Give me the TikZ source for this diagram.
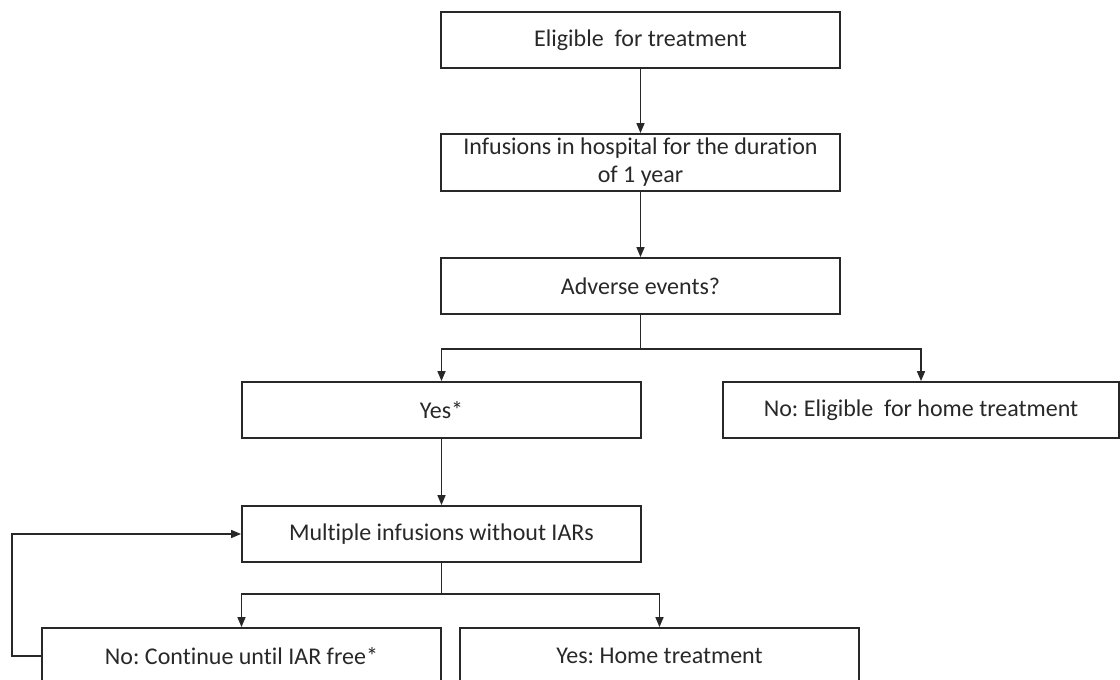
\documentclass[tikz,border=0pt]{standalone}
\usepackage{fontspec}
\setmainfont{Carlito}[RawFeature=-liga]
\frenchspacing
\usetikzlibrary{arrows.meta}
\definecolor{cline}{RGB}{40,40,40}
\tikzset{
  box/.style={draw=cline,line width=1.8pt,minimum width=399pt,minimum height=56pt,
    inner sep=0pt,align=center,text=cline,font=\fontsize{24}{28}\selectfont},
  conn/.style={draw=cline,line width=1.6pt},
  arr/.style={conn,-{Triangle[length=10pt,width=8pt]}}
}

\begin{document}
\begin{tikzpicture}[y=1pt,x=1pt,yscale=-1]
  \useasboundingbox (0,0) rectangle (1120,680);
  % boxes
  \node[box] (elig) at (640.5,40) {Eligible\ \ for treatment};
  \node[box,minimum height=57pt] (hosp) at (640.5,162.5) {Infusions in hospital for the duration\\of 1 year};
  \node[box] (adv) at (640.5,286) {Adverse events?};
  \node[box] (yes) at (441.5,410) {Yes*};
  \node[box,minimum width=396pt] (nohome) at (921,410) {No: Eligible\ \ for home treatment};
  \node[box] (multi) at (441.5,534) {Multiple infusions without IARs};
  \node[box] (cont) at (241.5,656) {No: Continue until IAR free*};
  \node[box] (home) at (659.5,656) {Yes: Home treatment};
  % split points
  \coordinate (split1) at (640.5,349);
  \coordinate (split2) at (441.5,594);
  \coordinate (loop) at (12,0);
  % connectors
  \draw[arr] (elig) -- (hosp);
  \draw[arr] (hosp) -- (adv);
  \draw[conn] (adv.south) -- (split1);
  \draw[arr] (split1) -| (yes.north);
  \draw[arr] (split1) -| (nohome.north);
  \draw[arr] (yes) -- (multi);
  \draw[conn] (multi.south) -- (split2);
  \draw[arr] (split2) -| (cont.north);
  \draw[arr] (split2) -| (home.north);
  \draw[arr] (cont.west) -- (cont.west -| loop) |- (multi.west);
\end{tikzpicture}
\end{document}
